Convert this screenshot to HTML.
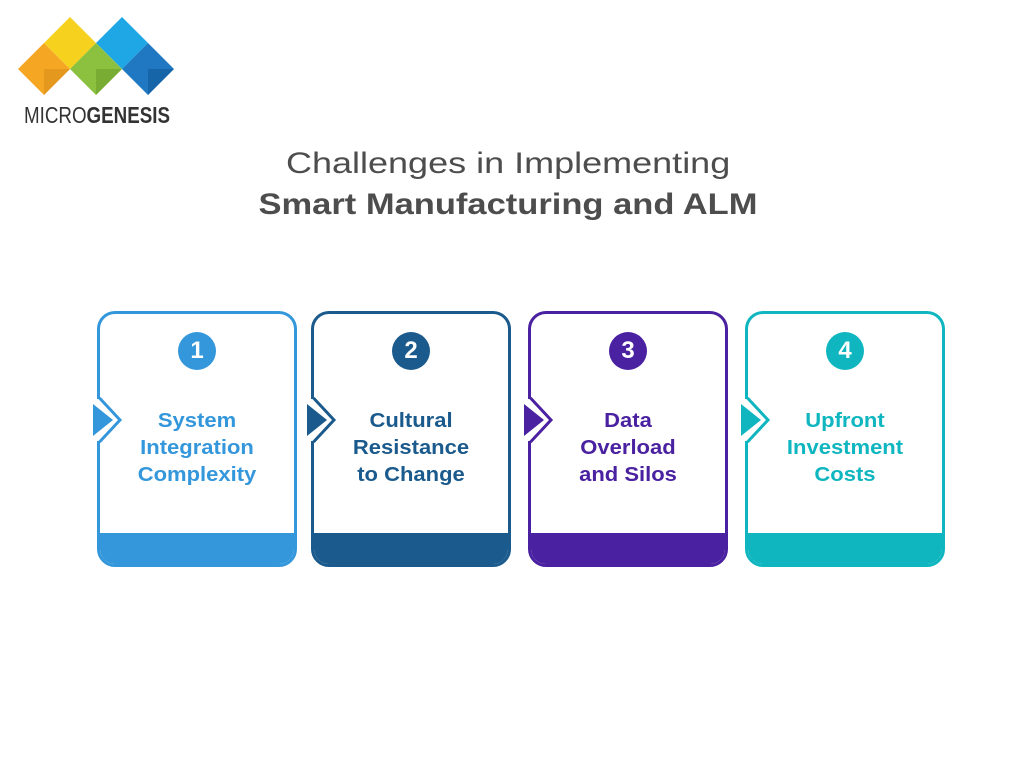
<!DOCTYPE html>
<html><head><meta charset="utf-8"><style>
body{margin:0;width:1024px;height:761px;background:#fff;position:relative;overflow:hidden;font-family:"Liberation Sans",sans-serif}
.t{position:absolute;left:0;width:1016px;text-align:center;color:#4d4d4d;font-size:30px}
.t span{display:inline-block}
.card{position:absolute;top:311px;width:194px;height:250px;border:3px solid;border-radius:18px;overflow:hidden;background:#fff}
.band{position:absolute;left:0;right:0;bottom:0;height:31px}
.num{position:absolute;left:78px;top:18px;width:38px;height:38px;border-radius:50%;color:#fff;font-weight:bold;font-size:24px;text-align:center;line-height:38px}
.txt{position:absolute;left:0;right:0;top:94px;text-align:center;font-weight:bold;font-size:20px;line-height:27px;transform:scaleX(1.1)}
.chev{position:absolute;top:396px}
</style></head><body>
<svg style="position:absolute;left:0;top:0" width="200" height="130">
<polygon points="70,17 96,43 70,69 44,43" fill="#f6d21e"/>
<polygon points="122,17 148,43 122,69 96,43" fill="#1fa6e4"/>
<polygon points="44,43 70,69 44,95 18,69" fill="#f5a623"/>
<polygon points="96,43 122,69 96,95 70,69" fill="#8cc13f"/>
<polygon points="148,43 174,69 148,95 122,69" fill="#1f78c1"/>
<polygon points="44,69 70,69 44,95" fill="#d8901a" opacity=".6"/>
<polygon points="96,69 122,69 96,95" fill="#6a9e2a" opacity=".6"/>
<polygon points="148,69 174,69 148,95" fill="#13599a" opacity=".6"/>
<text x="24" y="123" font-family="Liberation Sans Narrow, Liberation Sans, sans-serif" font-size="23" fill="#333" textLength="146" lengthAdjust="spacingAndGlyphs">MICRO<tspan font-weight="bold">GENESIS</tspan></text>
</svg>
<div class="t" style="top:147px"><span style="transform:scaleX(1.2)">Challenges in Implementing</span></div>
<div class="t" style="top:188px;font-weight:bold"><span style="transform:scaleX(1.15)">Smart Manufacturing and ALM</span></div>

<div class="card" style="left:97px;border-color:#3497db"><div class="num" style="background:#3497db">1</div><div class="txt" style="color:#3497db">System<br>Integration<br>Complexity</div><div class="band" style="background:#3497db"></div></div>
<div class="card" style="left:311px;border-color:#1a5a8c"><div class="num" style="background:#1a5a8c">2</div><div class="txt" style="color:#1a5a8c">Cultural<br>Resistance<br>to Change</div><div class="band" style="background:#1a5a8c"></div></div>
<div class="card" style="left:528px;border-color:#4a21a0"><div class="num" style="background:#4a21a0">3</div><div class="txt" style="color:#4a21a0">Data<br>Overload<br>and Silos</div><div class="band" style="background:#4a21a0"></div></div>
<div class="card" style="left:745px;border-color:#0fb6c0"><div class="num" style="background:#0fb6c0">4</div><div class="txt" style="color:#0fb6c0">Upfront<br>Investment<br>Costs</div><div class="band" style="background:#0fb6c0"></div></div>

<svg class="chev" style="left:90px" width="36" height="48"><rect x="6" y="3" width="6" height="42" fill="#fff"/><polyline points="9.5,2 30,24 9.5,46" fill="none" stroke="#3497db" stroke-width="3"/><polygon points="3,8 23,24 3,40" fill="#3497db"/></svg>
<svg class="chev" style="left:304px" width="36" height="48"><rect x="6" y="3" width="6" height="42" fill="#fff"/><polyline points="9.5,2 30,24 9.5,46" fill="none" stroke="#1a5a8c" stroke-width="3"/><polygon points="3,8 23,24 3,40" fill="#1a5a8c"/></svg>
<svg class="chev" style="left:521px" width="36" height="48"><rect x="6" y="3" width="6" height="42" fill="#fff"/><polyline points="9.5,2 30,24 9.5,46" fill="none" stroke="#4a21a0" stroke-width="3"/><polygon points="3,8 23,24 3,40" fill="#4a21a0"/></svg>
<svg class="chev" style="left:738px" width="36" height="48"><rect x="6" y="3" width="6" height="42" fill="#fff"/><polyline points="9.5,2 30,24 9.5,46" fill="none" stroke="#0fb6c0" stroke-width="3"/><polygon points="3,8 23,24 3,40" fill="#0fb6c0"/></svg>
</body></html>
